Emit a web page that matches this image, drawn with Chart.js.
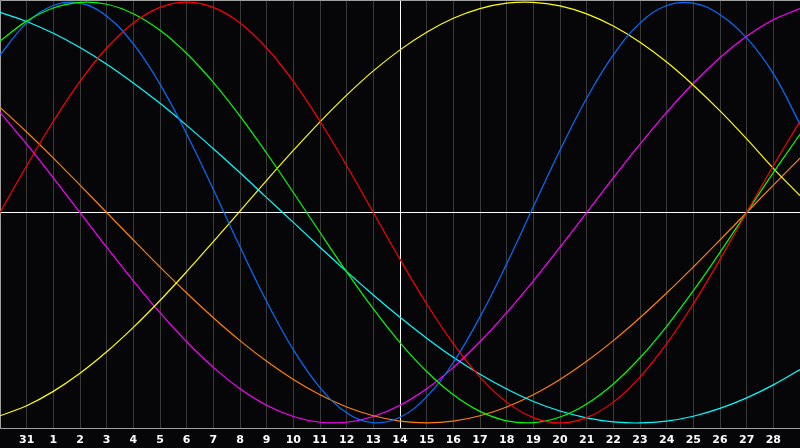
<!DOCTYPE html>
<html>
<head>
<meta charset="utf-8">
<script src="https://cdn.jsdelivr.net/npm/chart.js@4/dist/chart.umd.min.js"></script>
<style>
html,body{margin:0;padding:0;background:#060609;}
canvas{display:block;}
</style>
</head>
<body>
<canvas id="c" width="800" height="448"></canvas>
<script>
// Day labels (first and last grid positions are unlabeled days)
const days = ['', '31', '1', '2', '3', '4', '5', '6', '7', '8', '9', '10', '11', '12', '13', '14',
  '15', '16', '17', '18', '19', '20', '21', '22', '23', '24', '25', '26', '27', '28', ''];
const todayIndex = 15;

const redVals = [0, 0.2225, 0.4339, 0.6235, 0.7818, 0.9010, 0.9749, 1, 0.9749, 0.9010, 0.7818, 0.6235,
  0.4339, 0.2225, 0, -0.2225, -0.4339, -0.6235, -0.7818, -0.9010, -0.9749, -1, -0.9749, -0.9010,
  -0.7818, -0.6235, -0.4339, -0.2225, 0, 0.2225, 0.4339];
const greenVals = [0.8146, 0.9096, 0.9718, 0.9989, 0.9898, 0.9450, 0.8660, 0.7557, 0.6182, 0.4582,
  0.2817, 0.0951, -0.0951, -0.2817, -0.4582, -0.6182, -0.7557, -0.8660, -0.9450, -0.9898, -0.9989,
  -0.9718, -0.9096, -0.8146, -0.6901, -0.5406, -0.3717, -0.1893, 0, 0.1893, 0.3717];
const blueVals = [0.749, 0.900, 0.984, 0.995, 0.933, 0.801, 0.610, 0.373, 0.109, -0.163, -0.423,
  -0.652, -0.832, -0.951, -0.999, -0.973, -0.875, -0.712, -0.496, -0.244, 0.027, 0.296, 0.543,
  0.749, 0.900, 0.984, 0.995, 0.94, 0.83, 0.66, 0.42];
const cyanVals = [0.951, 0.908, 0.852, 0.784, 0.705, 0.616, 0.519, 0.414, 0.303, 0.189, 0.071,
  -0.047, -0.165, -0.281, -0.392, -0.498, -0.597, -0.688, -0.769, -0.839, -0.898, -0.943, -0.976,
  -0.995, -1.0, -0.991, -0.968, -0.931, -0.881, -0.819, -0.746];
const yellowVals = [-0.966, -0.918, -0.850, -0.764, -0.662, -0.546, -0.418, -0.281, -0.138, 0.007,
  0.153, 0.295, 0.431, 0.558, 0.673, 0.773, 0.857, 0.923, 0.969, 0.995, 0.999, 0.982, 0.944, 0.886,
  0.809, 0.715, 0.605, 0.483, 0.350, 0.210, 0.080];
const orangeVals = [0.5, 0.3827, 0.2588, 0.1305, 0, -0.1305, -0.2588, -0.3827, -0.5, -0.6088, -0.7071,
  -0.7934, -0.8660, -0.9239, -0.9659, -0.9914, -1, -0.9914, -0.9659, -0.9239, -0.8660, -0.7934,
  -0.7071, -0.6088, -0.5, -0.3827, -0.2588, -0.1305, 0, 0.1305, 0.2588];
const magentaVals = [0.4759, 0.3247, 0.1646, 0, -0.1646, -0.3247, -0.4759, -0.6142, -0.7357, -0.8372,
  -0.9158, -0.9694, -0.9966, -0.9966, -0.9694, -0.9158, -0.8372, -0.7357, -0.6142, -0.4759, -0.3247,
  -0.1646, 0, 0.1646, 0.3247, 0.4759, 0.6142, 0.7357, 0.8372, 0.9158, 0.9694];

const series = [
  {data: redVals, color: '#ff0000'},
  {data: greenVals, color: '#00ff00'},
  {data: blueVals, color: '#0070ff'},
  {data: cyanVals, color: '#00ffff'},
  {data: yellowVals, color: '#ffff00'},
  {data: orangeVals, color: '#ff8000'},
  {data: magentaVals, color: '#ff00ff'}
];

const frame = {
  id: 'frame',
  beforeDatasetsDraw(chart) {
    const {ctx, chartArea} = chart;
    ctx.save();
    ctx.strokeStyle = '#a0a0a0';
    ctx.lineWidth = 1;
    ctx.beginPath();
    ctx.moveTo(chartArea.left + 0.5, chartArea.bottom);
    ctx.lineTo(chartArea.left + 0.5, 0.5);
    ctx.lineTo(chartArea.right, 0.5);
    ctx.stroke();
    ctx.restore();
  }
};

const bg = {
  id: 'bg',
  beforeDraw(chart) {
    const ctx = chart.ctx;
    ctx.save();
    ctx.fillStyle = '#060609';
    ctx.fillRect(0, 0, chart.width, chart.height);
    ctx.restore();
  }
};

new Chart(document.getElementById('c'), {
  type: 'line',
  data: {
    labels: days,
    datasets: series.map(s => ({
      data: s.data,
      borderColor: s.color,
      borderWidth: 1.2,
      pointRadius: 0,
      pointHoverRadius: 0,
      pointHitRadius: 0,
      fill: false,
      tension: 0.4
    }))
  },
  options: {
    responsive: false,
    animation: false,
    devicePixelRatio: 1,
    events: [],
    layout: {padding: 0, autoPadding: false},
    plugins: {legend: {display: false}, tooltip: {enabled: false}},
    scales: {
      x: {
        offset: false,
        grid: {
          color: ctx => ctx.index === todayIndex ? '#ffffff' : '#3a3a3a',
          lineWidth: 1,
          drawTicks: false
        },
        border: {display: true, color: '#a0a0a0'},
        ticks: {
          color: '#ffffff',
          font: {family: 'DejaVu Sans', size: 11, weight: 'bold'},
          padding: 6,
          maxRotation: 0,
          autoSkip: false
        },
        afterFit: s => { s.height = 20; s.paddingLeft = 0; s.paddingRight = 0; }
      },
      y: {
        min: -1.024,
        max: 1.01,
        ticks: {display: false, stepSize: 1},
        grid: {
          color: ctx => (ctx.tick && ctx.tick.value === 0) ? '#ffffff' : 'rgba(0,0,0,0)',
          drawTicks: false
        },
        border: {display: false},
        afterFit: s => { s.width = 0; }
      }
    }
  },
  plugins: [bg, frame]
});
</script>
</body>
</html>
